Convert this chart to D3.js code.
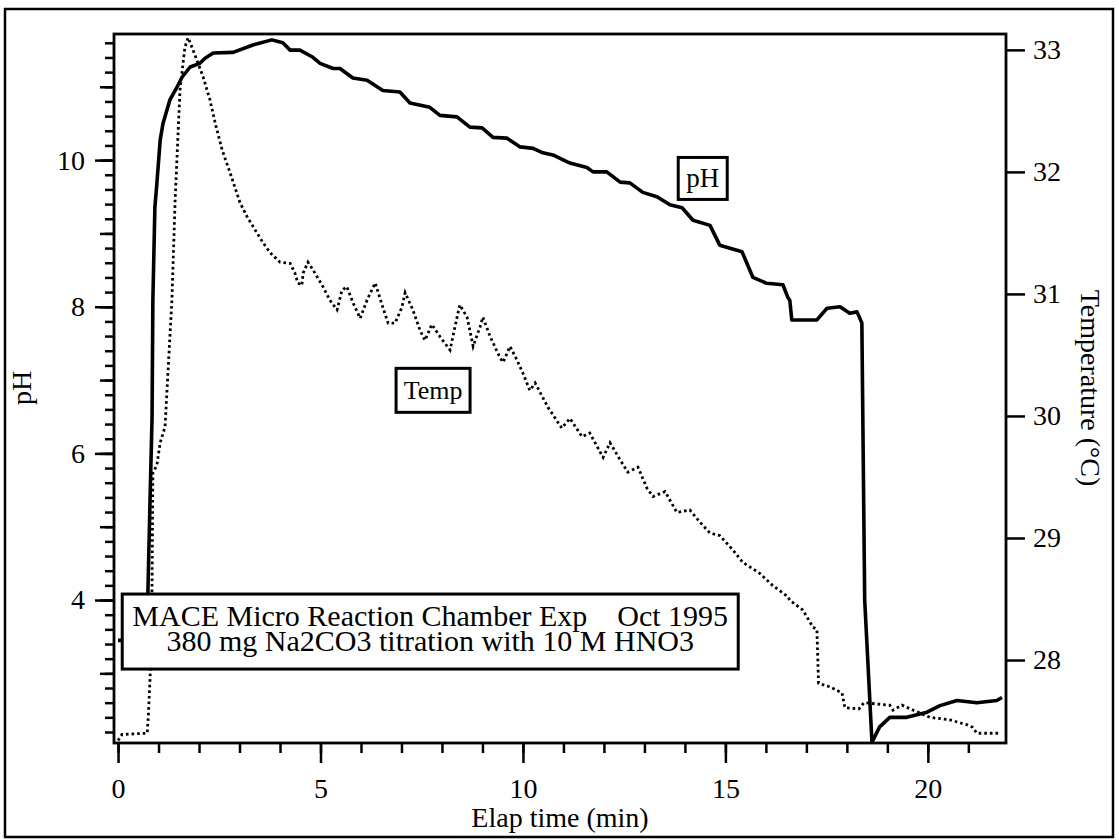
<!DOCTYPE html>
<html>
<head>
<meta charset="utf-8">
<script src="https://cdn.jsdelivr.net/npm/d3@7"></script>
<style>
  body { margin: 0; background: #fff; }
  svg text { font-family: "Liberation Serif", "DejaVu Serif", serif; fill: #000; }
</style>
</head>
<body>
<div id="chart"></div>
<script>
// elapsed time (min) and pH
var phTime = [0.0, 0.1, 0.72, 0.74, 0.79, 0.84, 0.86, 0.91, 0.96, 1.04, 1.11, 1.28, 1.46, 1.58, 1.78, 2.02, 2.15, 2.35, 2.84, 3.33, 3.80, 4.07, 4.25, 4.49, 4.79, 4.99, 5.31, 5.48, 5.80, 6.15, 6.54, 6.96, 7.21, 7.70, 7.95, 8.37, 8.69, 8.99, 9.26, 9.60, 9.93, 10.25, 10.49, 10.74, 11.16, 11.58, 11.73, 12.07, 12.40, 12.64, 12.96, 13.31, 13.63, 13.93, 14.20, 14.62, 14.86, 15.41, 15.68, 16.02, 16.42, 16.54, 16.59, 16.64, 17.26, 17.51, 17.83, 18.07, 18.25, 18.37, 18.44, 18.62, 18.81, 19.06, 19.48, 19.98, 20.30, 20.72, 21.21, 21.70, 21.83];
var phValue = [3.45, 3.45, 3.45, 4.17, 5.36, 6.49, 8.09, 9.36, 9.69, 10.27, 10.5, 10.82, 11.0, 11.13, 11.27, 11.32, 11.39, 11.46, 11.47, 11.57, 11.64, 11.6, 11.5, 11.5, 11.41, 11.32, 11.25, 11.25, 11.12, 11.09, 10.95, 10.93, 10.78, 10.72, 10.61, 10.59, 10.45, 10.44, 10.31, 10.30, 10.18, 10.16, 10.10, 10.07, 9.96, 9.90, 9.84, 9.84, 9.70, 9.69, 9.56, 9.50, 9.39, 9.35, 9.18, 9.11, 8.84, 8.75, 8.40, 8.32, 8.30, 8.13, 8.09, 7.82, 7.82, 7.98, 8.00, 7.91, 7.93, 7.78, 4.0, 2.06, 2.27, 2.40, 2.40, 2.47, 2.56, 2.63, 2.60, 2.63, 2.67];

// elapsed time (min) and temperature (C)
var tempTime = [0, 0.1, 0.72, 0.75, 0.80, 0.84, 0.86, 0.96, 1.04, 1.16, 1.33, 1.41, 1.53, 1.65, 1.73, 1.85, 2.10, 2.27, 2.40, 2.57, 2.77, 3.01, 3.19, 3.58, 3.75, 4.00, 4.25, 4.37, 4.44, 4.54, 4.57, 4.69, 4.81, 5.06, 5.23, 5.41, 5.53, 5.65, 5.80, 5.98, 6.15, 6.35, 6.54, 6.67, 6.84, 7.01, 7.09, 7.28, 7.46, 7.58, 7.75, 7.95, 8.20, 8.32, 8.44, 8.62, 8.77, 8.94, 9.01, 9.19, 9.43, 9.51, 9.68, 9.85, 10.0, 10.17, 10.30, 10.62, 10.96, 11.16, 11.46, 11.65, 11.98, 12.15, 12.40, 12.59, 12.84, 13.06, 13.21, 13.51, 13.80, 14.12, 14.37, 14.62, 14.86, 15.19, 15.43, 15.85, 16.17, 16.54, 16.59, 16.91, 17.16, 17.26, 17.30, 17.58, 17.88, 17.95, 18.30, 18.42, 19.06, 19.14, 19.36, 19.63, 20.05, 20.54, 20.96, 21.10, 21.21, 21.78];
var tempValue = [27.34, 27.39, 27.40, 27.55, 27.92, 28.63, 29.53, 29.60, 29.78, 29.91, 30.95, 31.77, 32.67, 33.02, 33.10, 33.00, 32.78, 32.59, 32.40, 32.18, 31.99, 31.75, 31.63, 31.42, 31.34, 31.26, 31.25, 31.17, 31.09, 31.07, 31.17, 31.26, 31.20, 31.06, 30.95, 30.87, 31.03, 31.06, 30.93, 30.80, 30.95, 31.09, 30.89, 30.76, 30.76, 30.89, 31.01, 30.87, 30.70, 30.62, 30.75, 30.65, 30.54, 30.73, 30.91, 30.81, 30.57, 30.73, 30.81, 30.65, 30.48, 30.44, 30.57, 30.46, 30.35, 30.21, 30.27, 30.07, 29.90, 29.98, 29.83, 29.86, 29.66, 29.78, 29.64, 29.54, 29.58, 29.41, 29.34, 29.38, 29.21, 29.23, 29.13, 29.04, 29.02, 28.90, 28.80, 28.71, 28.61, 28.52, 28.49, 28.41, 28.27, 28.25, 27.81, 27.78, 27.73, 27.61, 27.60, 27.65, 27.63, 27.59, 27.63, 27.59, 27.53, 27.51, 27.47, 27.45, 27.40, 27.40];

var timeMajor = [0, 5, 10, 15, 20];
var phMajor = [4, 6, 8, 10];
var tempMajor = [28, 29, 30, 31, 32, 33];

var W = 1119, H = 840;
var margin = { top: 34, right: 113, bottom: 97, left: 114 };
var width = W - margin.left - margin.right;
var height = H - margin.top - margin.bottom;

var svg = d3.select("#chart").append("svg")
    .attr("width", W)
    .attr("height", H);

// outer frame
svg.append("rect")
    .attr("x", 5).attr("y", 9)
    .attr("width", 1108).attr("height", 828)
    .attr("fill", "none")
    .attr("stroke", "#000")
    .attr("stroke-width", 2.5);

var g = svg.append("g")
    .attr("transform", "translate(" + margin.left + "," + margin.top + ")");

var x = d3.scaleLinear().domain([-0.1, 21.93]).range([0, width]);
var yPH = d3.scaleLinear().domain([2.05, 11.72]).range([height, 0]);
var yT = d3.scaleLinear().domain([27.32, 33.13]).range([height, 0]);

function styleAxis(sel) {
    sel.select(".domain").remove();
    sel.selectAll(".tick line").attr("stroke", "#000").attr("stroke-width", 2.5);
    sel.selectAll(".tick text").style("font-size", "28px").attr("fill", "#000");
}

// x axis: minor every minute, labelled every 5
g.append("g")
    .attr("transform", "translate(0," + height + ")")
    .call(d3.axisBottom(x).tickValues(d3.range(0, 22)).tickSize(10).tickFormat(""))
    .call(styleAxis);
g.append("g")
    .attr("transform", "translate(0," + height + ")")
    .call(d3.axisBottom(x).tickValues(timeMajor).tickSize(20).tickPadding(15).tickFormat(d3.format("d")))
    .call(styleAxis);

// left pH axis
var phMinor = d3.range(11, 59).map(function (d) { return d / 5; });
g.append("g")
    .call(d3.axisLeft(yPH).tickValues(phMinor).tickSize(9).tickFormat(""))
    .call(styleAxis);
g.append("g")
    .call(d3.axisLeft(yPH).tickValues(d3.range(3, 12)).tickSize(14).tickFormat(""))
    .call(styleAxis);
g.append("g")
    .call(d3.axisLeft(yPH).tickValues(phMajor).tickSize(19).tickPadding(10).tickFormat(d3.format("d")))
    .call(styleAxis);

// right temperature axis
g.append("g")
    .attr("transform", "translate(" + width + ",0)")
    .call(d3.axisRight(yT).tickValues(tempMajor).tickSize(19).tickPadding(8).tickFormat(d3.format("d")))
    .call(styleAxis);

// plot frame
g.append("rect")
    .attr("width", width).attr("height", height)
    .attr("fill", "none")
    .attr("stroke", "#000")
    .attr("stroke-width", 2.8);

var tempData = tempTime.map(function (t, i) { return [t, tempValue[i]]; });
var phData = phTime.map(function (t, i) { return [t, phValue[i]]; });

g.append("path")
    .datum(tempData)
    .attr("fill", "none")
    .attr("stroke", "#000")
    .attr("stroke-width", 2.8)
    .attr("stroke-dasharray", "2.6,3")
    .attr("d", d3.line().x(function (d) { return x(d[0]); }).y(function (d) { return yT(d[1]); }));

g.append("path")
    .datum(phData)
    .attr("fill", "none")
    .attr("stroke", "#000")
    .attr("stroke-width", 3.6)
    .attr("stroke-linejoin", "round")
    .attr("d", d3.line().x(function (d) { return x(d[0]); }).y(function (d) { return yPH(d[1]); }));

// boxed labels
function boxLabel(cx, cy, w, h, size, lines, offsets) {
    var lb = g.append("g").attr("transform", "translate(" + cx + "," + cy + ")");
    lb.append("rect")
        .attr("x", -w / 2).attr("y", -h / 2)
        .attr("width", w).attr("height", h)
        .attr("fill", "#fff")
        .attr("stroke", "#000")
        .attr("stroke-width", 3);
    lines.forEach(function (s, i) {
        lb.append("text")
            .attr("text-anchor", "middle")
            .attr("y", offsets[i])
            .attr("dy", "0.33em")
            .style("font-size", size + "px")
            .style("white-space", "pre")
            .text(s);
    });
}

boxLabel(x(14.44), yPH(9.75), 49, 42, 27, ["pH"], [0]);
boxLabel(x(7.78), yT(30.21), 74, 44, 26, ["Temp"], [0]);
boxLabel(x(7.71), yPH(3.57), 616, 75, 30, ["MACE Micro Reaction Chamber Exp    Oct 1995", "380 mg Na2CO3 titration with 10 M HNO3"], [-15, 10]);

// axis titles
svg.append("text")
    .attr("x", margin.left + width / 2)
    .attr("y", 827)
    .attr("text-anchor", "middle")
    .style("font-size", "28px")
    .text("Elap time (min)");

svg.append("text")
    .attr("transform", "translate(31,388) rotate(-90)")
    .attr("text-anchor", "middle")
    .style("font-size", "28px")
    .text("pH");

svg.append("text")
    .attr("transform", "translate(1081,388) rotate(90)")
    .attr("text-anchor", "middle")
    .style("font-size", "28px")
    .text("Temperature (°C)");
</script>
</body>
</html>
